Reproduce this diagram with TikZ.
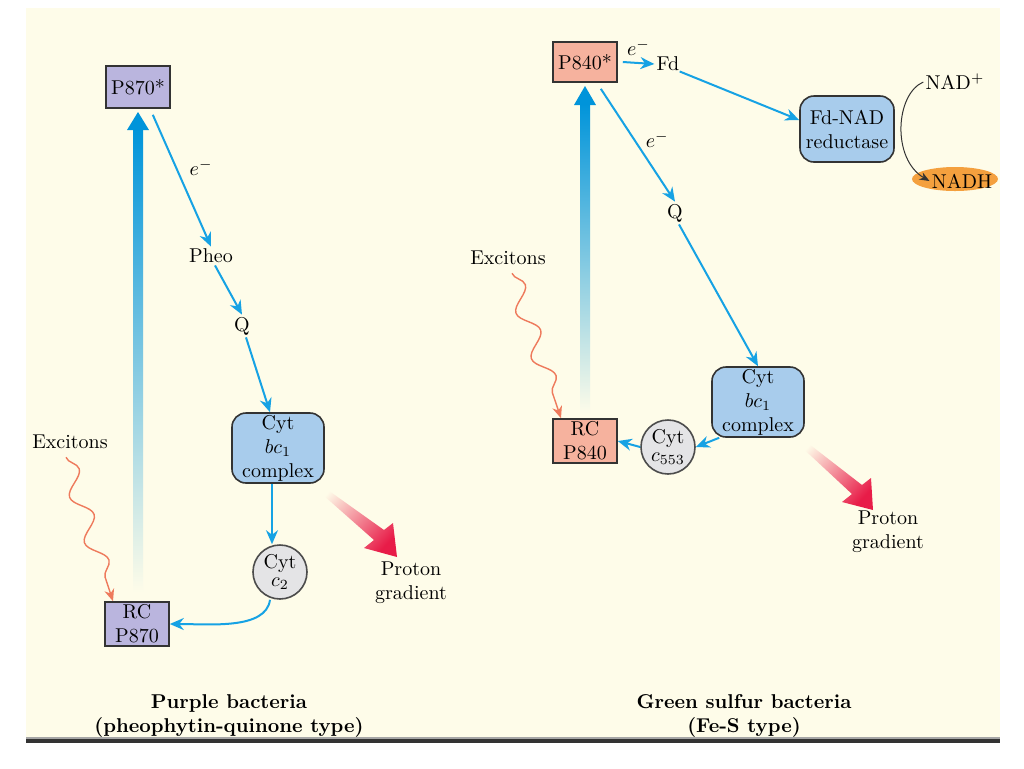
\documentclass[tikz,border=0pt]{standalone}
\usepackage{amsmath}
\usetikzlibrary{arrows.meta,shapes.geometric,decorations.pathmorphing}

\definecolor{cream}{RGB}{254,252,233}
\definecolor{lilac}{RGB}{186,181,222}
\definecolor{peach}{RGB}{246,178,158}
\definecolor{paleblue}{RGB}{168,204,236}
\definecolor{cytgray}{RGB}{228,228,230}
\definecolor{eblue}{RGB}{22,162,228}
\definecolor{bigblue}{RGB}{0,148,218}
\definecolor{protonred}{RGB}{232,28,72}
\definecolor{nadhorange}{RGB}{244,160,62}
\definecolor{exciton}{RGB}{238,122,92}

\tikzset{
  pigment/.style={draw=black!80, thick, minimum width=32pt, minimum height=21pt, inner sep=1pt, align=center},
  cplx/.style={draw=black!80, thick, fill=paleblue, rounded corners=7pt, minimum width=46pt, minimum height=34pt, inner sep=1pt, align=center},
  cyt/.style={circle, draw=black!70, thick, fill=cytgray, minimum size=27pt, inner sep=0pt, align=center},
  etrans/.style={eblue, line width=1pt, -{Stealth[length=7pt,width=6pt]}},
  wavy/.style={exciton, line width=0.7pt, decorate, decoration={snake, amplitude=4.5pt, segment length=24pt, post length=6pt}},
  lbl/.style={inner sep=1pt, align=center}
}

\begin{document}
\begin{tikzpicture}[x=0.5pt, y=-0.5pt]
\useasboundingbox (0, 0) rectangle (1024, 768);
\fill [cream] (26, 8) rectangle (1000, 737);
\fill [black!35] (26, 737) rectangle (1000, 739);
\fill [black!80] (26, 739) rectangle (1000, 743);

\begin{scope}
\clip (26, 8) rectangle (1000, 737);

% purple bacteria
\node [pigment, fill=lilac] (p870s) at (138, 87) {P870*};
\node [pigment, fill=lilac, minimum height=22pt] (p870) at (137, 624) {RC\\P870};
\node [lbl] (pheo) at (211, 256) {Pheo};
\node [lbl] (qa) at (242, 326) {Q};
\node [cplx] (bcA) at (278, 448) {Cyt\\$bc_1$\\complex};
\node [cyt] (c2) at (280, 572) {Cyt\\[-3pt]$c_2$};
\node [lbl] (excA) at (70, 442) {Excitons};
\node [lbl] (protA) at (411, 583) {Proton\\gradient};

\shade [top color=bigblue, middle color=bigblue, bottom color=cream] (133, 592) rectangle (143, 128);
\fill [bigblue] (127, 130) -- (138, 112) -- (149, 130) -- cycle;
\draw [etrans] (p870s.south east) ++(-18, 6) coordinate (eA) -- node [pos=0.4, right=3pt, black] {$e^-$} (pheo.north);
\draw [etrans] ([xshift=2pt]pheo.south) -- (qa.north);
\draw [etrans] ([xshift=2pt]qa.south) -- ([xshift=-4pt]bcA.north);
\draw [etrans] ([xshift=-3pt]bcA.south) -- ([xshift=-4pt]c2.north);
\draw [etrans] ([xshift=-5pt]c2.south) .. controls +(-4, 30) and +(40, 0) .. (p870.east);
\draw [wavy, -{Stealth[length=6pt,width=5pt]}] (excA.south) ++(-4, 6) coordinate (wA) -- ([xshift=-12pt]p870.north);
\shade [shading=axis, bottom color=cream, top color=protonred, shading angle=-133]
  (318, 483) -- (384, 530) -- (393, 523) -- (397, 557) -- (364, 548) -- (374, 540) -- (314, 487) -- cycle;
\node [lbl, font=\bfseries] (titleA) at (229, 716) {Purple bacteria\\(pheophytin-quinone type)};

% green sulfur bacteria
\node [pigment, fill=peach, minimum height=20pt] (p840s) at (585, 62) {P840*};
\node [pigment, fill=peach, minimum height=22pt] (p840) at (585, 441) {RC\\P840};
\node [lbl] (fd) at (668, 64) {Fd};
\node [cplx, minimum width=47pt, minimum height=33pt] (fdnad) at (847, 129) {Fd-NAD\\reductase};
\node [lbl] (nadp) at (955, 82) {NAD$^{+}$};
\node [ellipse, fill=nadhorange, minimum width=43pt, minimum height=12pt, inner sep=0pt] (nadh) at (955, 179) {};
\node [lbl] (nadhtxt) at (962, 181) {NADH};
\node [lbl] (qb) at (675, 213) {Q};
\node [cplx] (bcB) at (758, 402) {Cyt\\$bc_1$\\complex};
\node [cyt] (c553) at (668, 447) {Cyt\\[-3pt]$c_{553}$};
\node [lbl] (excB) at (508, 258) {Excitons};
\node [lbl] (protB) at (888, 532) {Proton\\gradient};

\shade [top color=bigblue, middle color=bigblue, bottom color=cream] (580, 414) rectangle (590, 103);
\fill [bigblue] (574, 105) -- (585, 86) -- (596, 105) -- cycle;
\draw [etrans] (p840s.east) ++(5, 0) coordinate (eB) -- node [above=0pt, black] {$e^-$} (fd.west);
\draw [etrans] (fd.south east) ++(-2, -2) coordinate (fB) -- ([yshift=4.5pt]fdnad.west);
\draw [->, >={Stealth[length=5pt,width=4pt]}, black!80, line width=0.5pt]
  (nadp.west) .. controls +(-28, 12) and +(-38, -22) .. (nadhtxt.west);
\draw [etrans] (p840s.south east) ++(-17, 6) coordinate (eC) -- node [pos=0.45, right=2pt, black] {$e^-$} (qb.north);
\draw [etrans] ([xshift=2pt]qb.south) -- (bcB.north);
\draw [etrans] ([xshift=4pt]bcB.south west) -- (c553.east);
\draw [etrans] (c553.west) -- (p840.east);
\draw [wavy, -{Stealth[length=6pt,width=5pt]}] (excB.south) ++(4, 6) coordinate (wB) -- ([xshift=-12pt]p840.north);
\shade [shading=axis, bottom color=cream, top color=protonred, shading angle=-133]
  (800, 437) -- (862, 485) -- (871, 478) -- (873, 510) -- (842, 502) -- (852, 494) -- (795, 441) -- cycle;
\node [lbl, font=\bfseries] (titleB) at (744, 716) {Green sulfur bacteria\\(Fe-S type)};
\end{scope}
\end{tikzpicture}
\end{document}
